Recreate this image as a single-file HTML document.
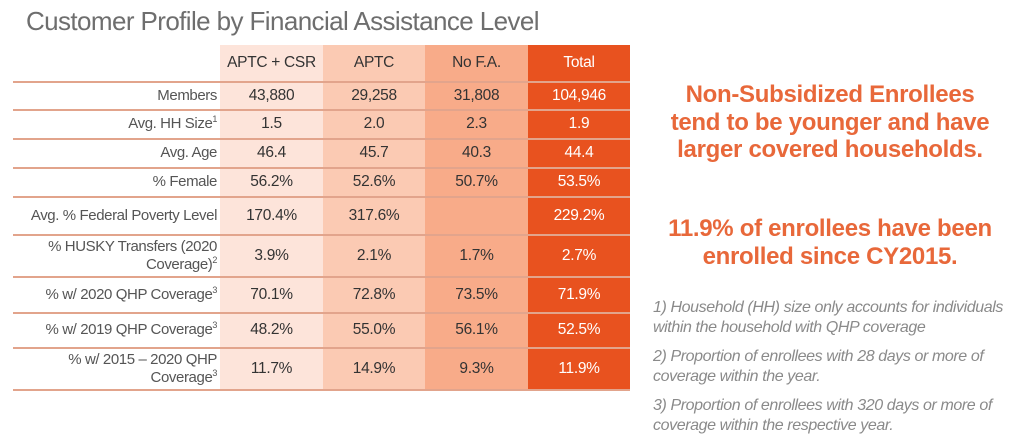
<!DOCTYPE html>
<html><head><style>
body{margin:0;width:1033px;height:440px;background:#fff;position:relative;overflow:hidden;font-family:"Liberation Sans",sans-serif}
.a{position:absolute}
.t{font-size:26px;color:#6e6e6e;left:26px;top:6px;letter-spacing:-0.6px}
.col{position:absolute;top:45px;height:345px}
.line{position:absolute;left:13px;width:617px;height:2px;background:#e2a48c}
.c{position:absolute;display:flex;align-items:center;justify-content:center;font-size:15.5px;color:#333;text-align:center;letter-spacing:-0.3px}
.l{position:absolute;left:13px;width:204px;display:flex;align-items:center;justify-content:flex-end;text-align:right;font-size:15px;color:#555;line-height:18px;letter-spacing:-0.4px}
.w{color:#fff}
.r{position:absolute;left:635px;width:390px;text-align:center;color:#e8683a;font-weight:bold;font-size:24px;line-height:27.5px;letter-spacing:-0.3px}
.n{position:absolute;left:653px;width:390px;color:#8a8a8a;font-style:italic;font-size:16px;line-height:19.5px;letter-spacing:-0.4px}
sup{font-size:9px;vertical-align:super;line-height:0}
</style></head><body>
<div class="a t">Customer Profile by Financial Assistance Level</div>
<div class="col" style="left:220px;width:103px;background:#fde4da"></div>
<div class="col" style="left:323px;width:102px;background:#fbcab3"></div>
<div class="col" style="left:425px;width:103px;background:#f8ab89"></div>
<div class="col" style="left:528px;width:102px;background:#e8521f"></div>
<div class="line" style="top:81px"></div>
<div class="line" style="top:109px"></div>
<div class="line" style="top:138px"></div>
<div class="line" style="top:167px"></div>
<div class="line" style="top:196px"></div>
<div class="line" style="top:234px"></div>
<div class="line" style="top:276px"></div>
<div class="line" style="top:312px"></div>
<div class="line" style="top:347px"></div>
<div class="line" style="top:389px"></div>
<div id="g"></div>
<script>
var rows=[[45,81,"",["APTC + CSR","APTC","No F.A.","Total"]],
[82,109,"Members",["43,880","29,258","31,808","104,946"]],
[110,138,"Avg. HH Size<sup>1</sup>",["1.5","2.0","2.3","1.9"]],
[139,167,"Avg. Age",["46.4","45.7","40.3","44.4"]],
[168,196,"% Female",["56.2%","52.6%","50.7%","53.5%"]],
[197,234,"Avg. % Federal Poverty Level",["170.4%","317.6%","","229.2%"]],
[235,276,"% HUSKY Transfers (2020<br>Coverage)<sup>2</sup>",["3.9%","2.1%","1.7%","2.7%"]],
[277,312,"% w/ 2020 QHP Coverage<sup>3</sup>",["70.1%","72.8%","73.5%","71.9%"]],
[313,347,"% w/ 2019 QHP Coverage<sup>3</sup>",["48.2%","55.0%","56.1%","52.5%"]],
[348,389,"% w/ 2015 – 2020 QHP<br>Coverage<sup>3</sup>",["11.7%","14.9%","9.3%","11.9%"]]];
var xs=[220,323,425,528],ws=[103,102,103,102],h="";
rows.forEach(function(r){var t=r[0],hh=r[1]-r[0];
h+='<div class="l" style="top:'+t+'px;height:'+hh+'px"><span>'+r[2]+'</span></div>';
r[3].forEach(function(v,i){h+='<div class="c'+(i==3?' w':'')+'" style="left:'+xs[i]+'px;width:'+ws[i]+'px;top:'+t+'px;height:'+hh+'px"><span>'+v+'</span></div>';});});
document.getElementById('g').innerHTML=h;
</script>
<div class="r" style="top:81px">Non-Subsidized Enrollees<br>tend to be younger and have<br>larger covered households.</div>
<div class="r" style="top:215px">11.9% of enrollees have been<br>enrolled since CY2015.</div>
<div class="n" style="top:298px">1) Household (HH) size only accounts for individuals<br>within the household with QHP coverage</div>
<div class="n" style="top:347px">2) Proportion of enrollees with 28 days or more of<br>coverage within the year.</div>
<div class="n" style="top:396px">3) Proportion of enrollees with 320 days or more of<br>coverage within the respective year.</div>
</body></html>
